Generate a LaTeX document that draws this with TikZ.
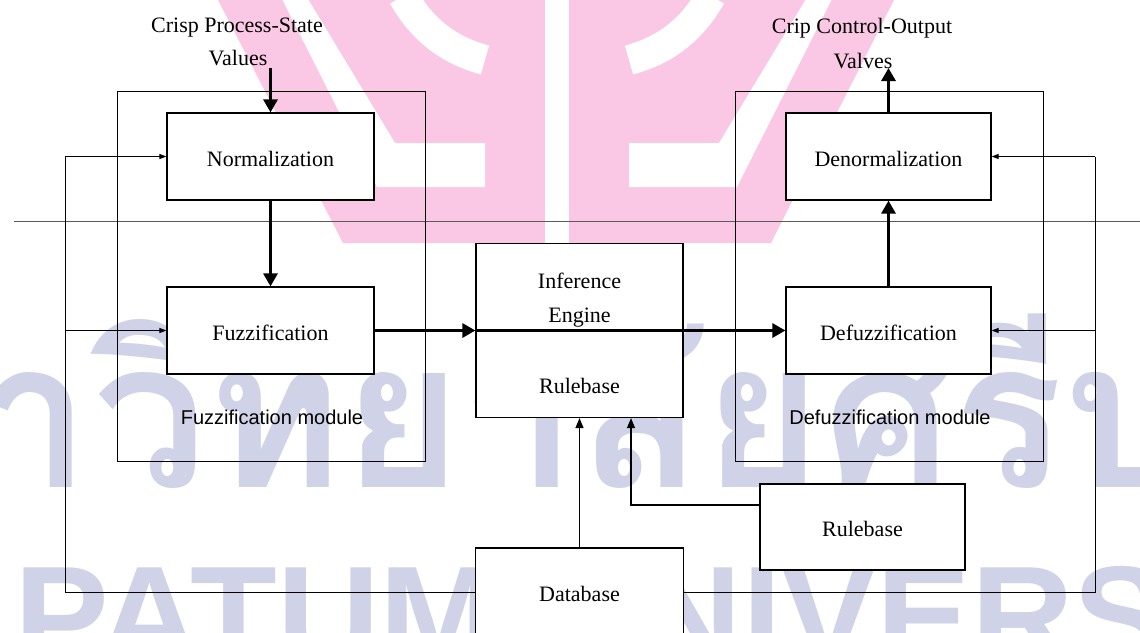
\documentclass[tikz,border=0pt]{standalone}
\usepackage{fontspec}
\setmainfont{Liberation Serif}
\newfontfamily\labsans{Liberation Sans}
\newfontfamily\thaifont[Script=Thai]{Loma}
\usetikzlibrary{arrows.meta}
\definecolor{wmpink}{RGB}{250,200,228}
\definecolor{wmgrey}{RGB}{208,211,232}
\definecolor{rulegrey}{RGB}{90,90,90}
\tikzset{
  blk/.style={draw=black, line width=1.2pt, fill=white, inner sep=0pt,
    font=\fontsize{22pt}{26pt}\selectfont, text height=19pt, text depth=0pt},
  modbox/.style={draw=black, line width=1pt, inner sep=0pt},
  lbl/.style={inner sep=0pt, font=\fontsize{22pt}{26pt}\selectfont},
  mlbl/.style={inner sep=0pt, font=\labsans\fontsize{20pt}{24pt}\selectfont},
  thinline/.style={line width=1pt},
  thinarr/.style={line width=1pt, -{Triangle[length=7pt,width=5pt]}},
  thinarrb/.style={line width=1.2pt, -{Triangle[length=10pt,width=8pt]}},
  thickarr/.style={line width=3pt, -{Triangle[length=13pt,width=14pt]}},
  wmthai/.style={inner sep=0pt, text=wmgrey, font=\thaifont\bfseries\fontsize{205pt}{250pt}\selectfont},
  wmlat/.style={inner sep=0pt, text=wmgrey, font=\labsans\bfseries\fontsize{142pt}{170pt}\selectfont}
}
\begin{document}
\begin{tikzpicture}[x=1pt,y=-1pt]
\useasboundingbox (0,0) rectangle (1140,632);
% ---- watermark ----
\begin{scope}
  \clip (0,0) rectangle (1140,632);
  \fill[wmpink] (218,0) -- (894,0) -- (771,243) -- (343,243) -- cycle;
  \fill[white] (545,-1) rectangle (569,243);
  \fill[white] (282,-1) -- (308,-1) -- (395,143) -- (485,143) -- (485,187) -- (377,187) -- cycle;
  \draw[white, line width=30pt] (403,-4) .. controls (425,35) and (455,52) .. (485,60);
  \begin{scope}[shift={(1114,0)}, xscale=-1]
    \fill[white] (282,-1) -- (308,-1) -- (395,143) -- (485,143) -- (485,187) -- (377,187) -- cycle;
    \draw[white, line width=30pt] (403,-4) .. controls (425,35) and (455,52) .. (485,60);
  \end{scope}
  \node[wmthai, anchor=base west] (wmth2) at (92,487) {วิทยาลัยศรีปทุม};
  \node[wmthai, anchor=base east] (wmth1) at (92,487) {มหา};
  \node[wmlat, anchor=base west] (wmen2) at (14,665) {PATUM UNIVERSITY};
  \node[wmlat, anchor=base east] (wmen1) at (-6,665) {SRI};
\end{scope}
% ---- page rule ----
\draw[line width=1pt, rulegrey] (14,221) -- (1140,221);
% ---- module boxes ----
\node[modbox, minimum width=308pt, minimum height=370pt] (modF) at (271,276) {};
\node[modbox, minimum width=308pt, minimum height=370pt] (modD) at (889,276) {};
% ---- boxes ----
\node[blk, minimum width=207pt, minimum height=87pt] (norm) at (270.5,156.5) {Normalization};
\node[blk, minimum width=207pt, minimum height=87pt] (fuzz) at (270.5,330.5) {Fuzzification};
\node[blk, minimum width=205pt, minimum height=87pt] (denorm) at (888.5,156.5) {Denormalization};
\node[blk, minimum width=205pt, minimum height=87pt] (defuzz) at (888.5,330.5) {Defuzzification};
\node[blk, minimum width=207pt, minimum height=174pt] (inf) at (579.5,330.5) {};
\node[blk, minimum width=205pt, minimum height=86pt] (rb2) at (862.5,527) {Rulebase};
\node[blk, minimum width=208pt, minimum height=88pt] (db) at (579.5,592) {Database};
% ---- texts ----
\node[lbl, anchor=base] (i1) at (579.5,288) {Inference};
\node[lbl, anchor=base] (i2) at (579.5,322) {Engine};
\node[lbl, anchor=base] (i3) at (579.5,393) {Rulebase};
\node[lbl, anchor=base] (t1) at (237,32) {Crisp Process-State};
\node[lbl, anchor=base] (t2) at (238,65) {Values};
\node[lbl, anchor=base] (t3) at (862,33) {Crip Control-Output};
\node[lbl, anchor=base] (t4) at (863,68) {Valves};
\node[mlbl, anchor=base] (m1) at (272,424) {Fuzzification module};
\node[mlbl, anchor=base] (m2) at (890,424) {Defuzzification module};
% ---- feedback loops ----
\coordinate (L1) at (65,592);
\coordinate (L2) at (65,156.5);
\coordinate (L3) at (65,330.5);
\coordinate (R1) at (1095,592);
\coordinate (R2) at (1095,156.5);
\coordinate (R3) at (1095,330.5);
\draw[thinline] (db.west) -- (L1) -- (L2);
\draw[thinarr] (L2) -- (norm.west);
\draw[thinarr] (L3) -- (fuzz.west);
\draw[thinline] (db.east) -- (R1) -- (R2);
\draw[thinarr] (R2) -- (denorm.east);
\draw[thinarr] (R3) -- (defuzz.east);
% ---- database / rulebase ----
\draw[thinarrb] (db.north) -- (inf.south);
\coordinate (C1) at (631,505);
\draw[thinarrb] (rb2.west |- C1) -- (C1) -- (C1 |- inf.south);
% ---- thick flow ----
\coordinate (inS) at (270.5,68);
\coordinate (outN) at (888.5,68);
\draw[thickarr] (inS) -- (norm.north);
\draw[thickarr] (norm.south) -- (fuzz.north);
\draw[thickarr] (fuzz.east) -- (inf.west);
\draw[thickarr] (inf.west) -- (defuzz.west);
\draw[thickarr] (defuzz.north) -- (denorm.south);
\draw[thickarr] (denorm.north) -- (outN);
\end{tikzpicture}
\end{document}
